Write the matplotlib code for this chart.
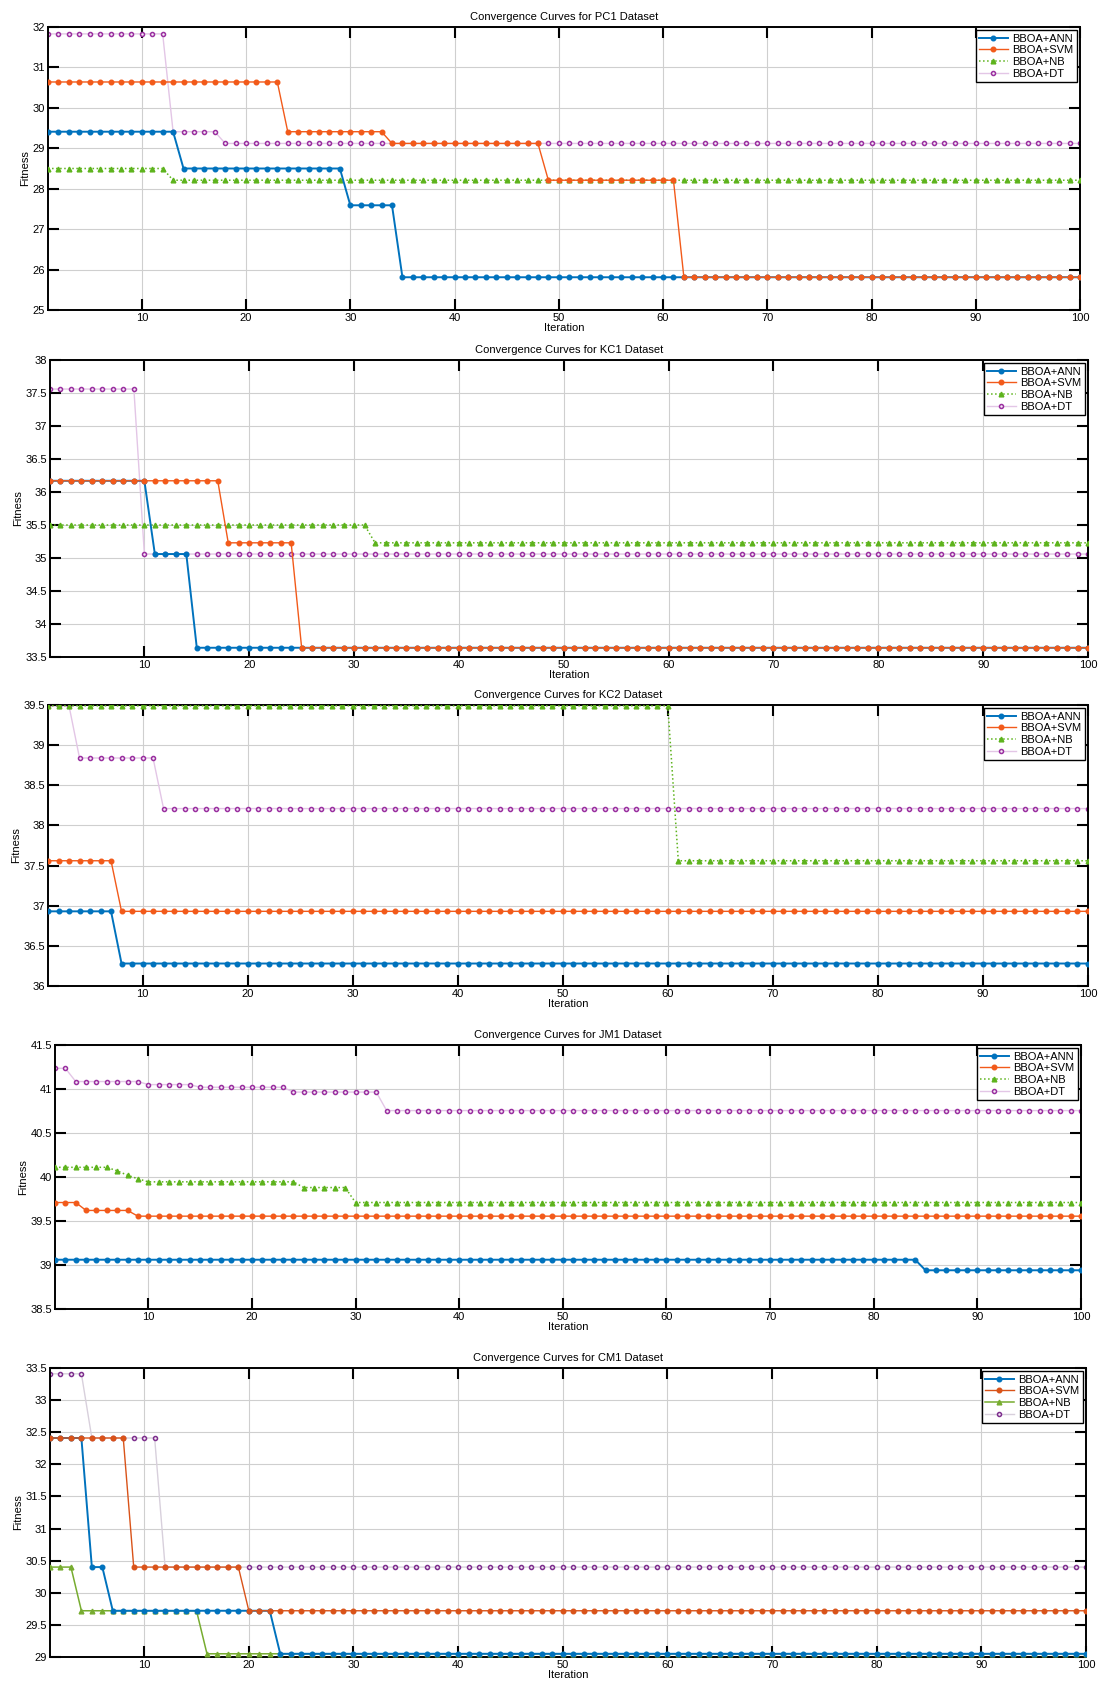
import numpy as np
import matplotlib
matplotlib.use("Agg")
import matplotlib.pyplot as plt

plt.rcParams['font.family'] = ['Liberation Sans', 'DejaVu Sans']

# run-length encoded best-fitness curves: (value, number of iterations)
iterations = np.arange(1, 101)
methods = ["BBOA+ANN", "BBOA+SVM", "BBOA+NB", "BBOA+DT"]

pc1_ann = [(29.41, 13), (28.50, 16), (27.59, 5), (25.81, 66)]
pc1_svm = [(30.64, 23), (29.41, 10), (29.12, 15), (28.21, 13), (25.81, 39)]
pc1_nb = [(28.50, 12), (28.21, 88)]
pc1_dt = [(31.83, 12), (29.41, 5), (29.12, 83)]

kc1_ann = [(36.17, 10), (35.06, 4), (33.64, 86)]
kc1_svm = [(36.17, 17), (35.23, 7), (33.64, 76)]
kc1_nb = [(35.50, 31), (35.23, 69)]
kc1_dt = [(37.56, 9), (35.06, 91)]

kc2_ann = [(36.93, 7), (36.28, 93)]
kc2_svm = [(37.56, 7), (36.93, 93)]
kc2_nb = [(39.49, 60), (37.56, 40)]
kc2_dt = [(39.49, 3), (38.84, 8), (38.21, 89)]

jm1_ann = [(39.06, 84), (38.94, 16)]
jm1_svm = [(39.71, 3), (39.62, 5), (39.555, 92)]
jm1_nb = [(40.11, 6), (40.07, 1), (40.02, 1), (39.98, 1), (39.945, 15),
          (39.88, 5), (39.71, 71)]
jm1_dt = [(41.235, 2), (41.085, 7), (41.05, 5), (41.02, 9), (40.965, 9),
          (40.755, 68)]

cm1_ann = [(32.41, 4), (30.40, 2), (29.72, 16), (29.05, 78)]
cm1_svm = [(32.41, 8), (30.40, 11), (29.72, 81)]
cm1_nb = [(30.40, 3), (29.72, 12), (29.05, 85)]
cm1_dt = [(33.41, 4), (32.41, 7), (30.40, 89)]

datasets = ["PC1", "KC1", "KC2", "JM1", "CM1"]
curves = [
    [pc1_ann, pc1_svm, pc1_nb, pc1_dt],
    [kc1_ann, kc1_svm, kc1_nb, kc1_dt],
    [kc2_ann, kc2_svm, kc2_nb, kc2_dt],
    [jm1_ann, jm1_svm, jm1_nb, jm1_dt],
    [cm1_ann, cm1_svm, cm1_nb, cm1_dt],
]
y_limits = [(25, 32), (33.5, 38), (36, 39.5), (38.5, 41.5), (29, 33.5)]
y_steps = [1, 0.5, 0.5, 0.5, 0.5]


def expand(runs):
    vals = [v for v, n in runs]
    counts = [n for v, n in runs]
    return np.repeat(vals, counts)


W, H = 1099, 1686
# axes boxes in pixels: left, top, right, bottom
boxes = [
    (48, 27, 1080, 310),
    (50, 360, 1088, 657),
    (48, 705, 1088, 986),
    (55, 1045, 1081, 1309),
    (50, 1368, 1086, 1657),
]

fig = plt.figure(figsize=(W / 100, H / 100), dpi=100)

for k, name in enumerate(datasets):
    l, t, r, b = boxes[k]
    ax = fig.add_axes([l / W, 1 - b / H, (r - l) / W, (b - t) / H])
    last = k == 4
    c_blue = '#0072BD'
    c_orange = '#D95319' if last else '#F25A1A'
    c_green = '#77AC30' if last else '#5DB31C'
    c_purple = '#7E2F8E' if last else '#9A2FA0'
    ann, svm, nb, dt = [expand(c) for c in curves[k]]

    ax.plot(iterations, ann, '-', color=c_blue, lw=1.4, marker='o', ms=3.3,
            mfc=c_blue, mec=c_blue, label=methods[0], zorder=4)
    ax.plot(iterations, svm, '-', color=c_orange, lw=1.0, marker='o', ms=3.3,
            mfc=c_orange, mec=c_orange, label=methods[1], zorder=5)
    ax.plot(iterations, nb, '-' if last else ':', color=c_green, lw=1.1,
            marker='^', ms=3.4, mfc=c_green, mec=c_green, label=methods[2], zorder=3)
    ax.plot(iterations, dt, '-', color='#e3c6e6' if not last else '#d8d0dc', lw=1.0,
            marker='o', ms=2.9, mfc='#f6eaf6', mec=c_purple, mew=1.1,
            label=methods[3], zorder=2)

    ax.set_xlim(1, 100)
    ax.set_ylim(*y_limits[k])
    ax.set_xticks(np.arange(10, 101, 10))
    lo, hi = y_limits[k]
    ax.set_yticks(np.arange(lo, hi + 1e-9, y_steps[k]))
    ax.yaxis.set_major_formatter(matplotlib.ticker.FuncFormatter(lambda v, p: f"{v:g}"))
    ax.grid(True, color='#cfcfcf', lw=0.8)
    ax.set_axisbelow(True)
    ax.tick_params(direction='in', length=8, width=1.5, top=True, right=True,
                   labelsize=8, pad=2)
    for s in ax.spines.values():
        s.set_linewidth(1.4)
    ax.set_title(f"Convergence Curves for {name} Dataset", fontsize=8, pad=5)
    ax.set_xlabel("Iteration", fontsize=8, labelpad=0)
    ax.set_ylabel("Fitness", fontsize=8, labelpad=2)
    leg = ax.legend(loc='upper right', fontsize=8, fancybox=False, framealpha=1,
                    edgecolor='black', borderpad=0.3, labelspacing=0.15,
                    handlelength=2.6, handletextpad=0.4, borderaxespad=0.3)
    leg.get_frame().set_linewidth(1.0)

fig.savefig("out.png", dpi=100)
